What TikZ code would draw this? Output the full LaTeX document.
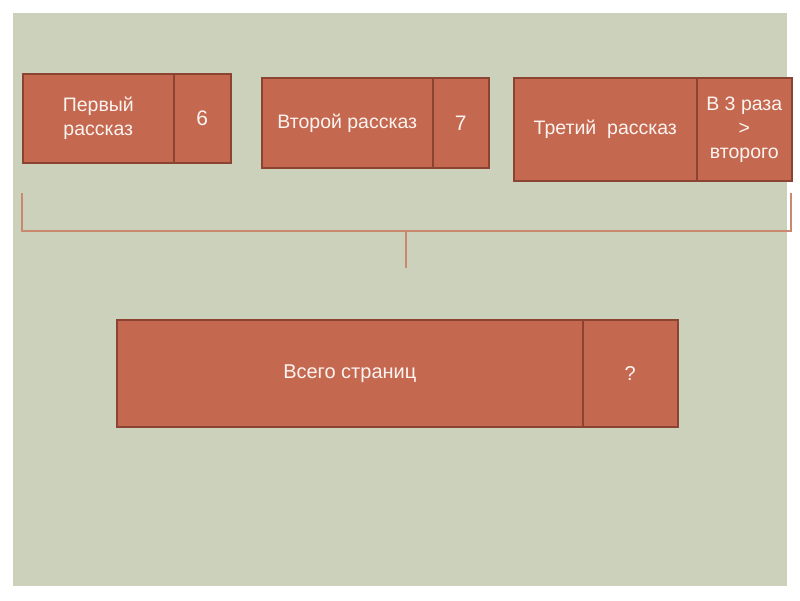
\documentclass[tikz,border=0pt]{standalone}
\usepackage{fontspec}
\setmainfont{Liberation Sans}
\definecolor{bggreen}{RGB}{204,209,187}
\definecolor{boxfill}{RGB}{197,104,80}
\definecolor{boxline}{RGB}{140,68,50}
\definecolor{brack}{RGB}{203,136,112}
\definecolor{txt}{RGB}{252,244,240}
\begin{document}
\begin{tikzpicture}[x=1pt,y=-1pt,
  cell/.style={draw=boxline, fill=boxfill, line width=1.6pt, rectangle, anchor=north west,
    inner sep=0pt, align=center, text=txt, font=\fontsize{19.5}{24}\selectfont},
  numcell/.style={cell, font=\fontsize{21}{24}\selectfont},
  brackline/.style={draw=brack, line width=1.2pt}]
\useasboundingbox (0,0) rectangle (800,600);
\fill[white] (0,0) rectangle (800,600);
\fill[bggreen] (13,13) rectangle (787,586);
% row 1
\node[cell, minimum width=151pt, minimum height=89pt] (a1) at (22,73) {Первый\\рассказ};
\node[numcell, minimum width=57pt, minimum height=89pt] (a2) at (173,73) {6};
\node[cell, minimum width=171pt, minimum height=90pt] (b1) at (261,77) {Второй рассказ};
\node[numcell, minimum width=56pt, minimum height=90pt] (b2) at (432,77) {7};
\node[cell, minimum width=183pt, minimum height=103pt] (c1) at (513,77) {Третий\ \ рассказ};
\node[cell, minimum width=95pt, minimum height=103pt] (c2) at (696,77) {В 3 раза\\>\\второго};
% total
\node[cell, minimum width=466pt, minimum height=107pt, font=\fontsize{20}{24}\selectfont] (d1) at (116,319) {Всего страниц};
\node[cell, minimum width=95pt, minimum height=107pt, font=\fontsize{20}{24}\selectfont] (d2) at (582,319) {?};
% bracket
\coordinate (bl) at (22,193);
\coordinate (br) at (791,193);
\coordinate (blc) at (22,231);
\coordinate (brc) at (791,231);
\coordinate (bm) at (406,231);
\coordinate (bs) at (406,268);
\draw[brackline] (bl) -- (blc) -- (brc) -- (br);
\draw[brackline] (bm) -- (bs);
\end{tikzpicture}
\end{document}
